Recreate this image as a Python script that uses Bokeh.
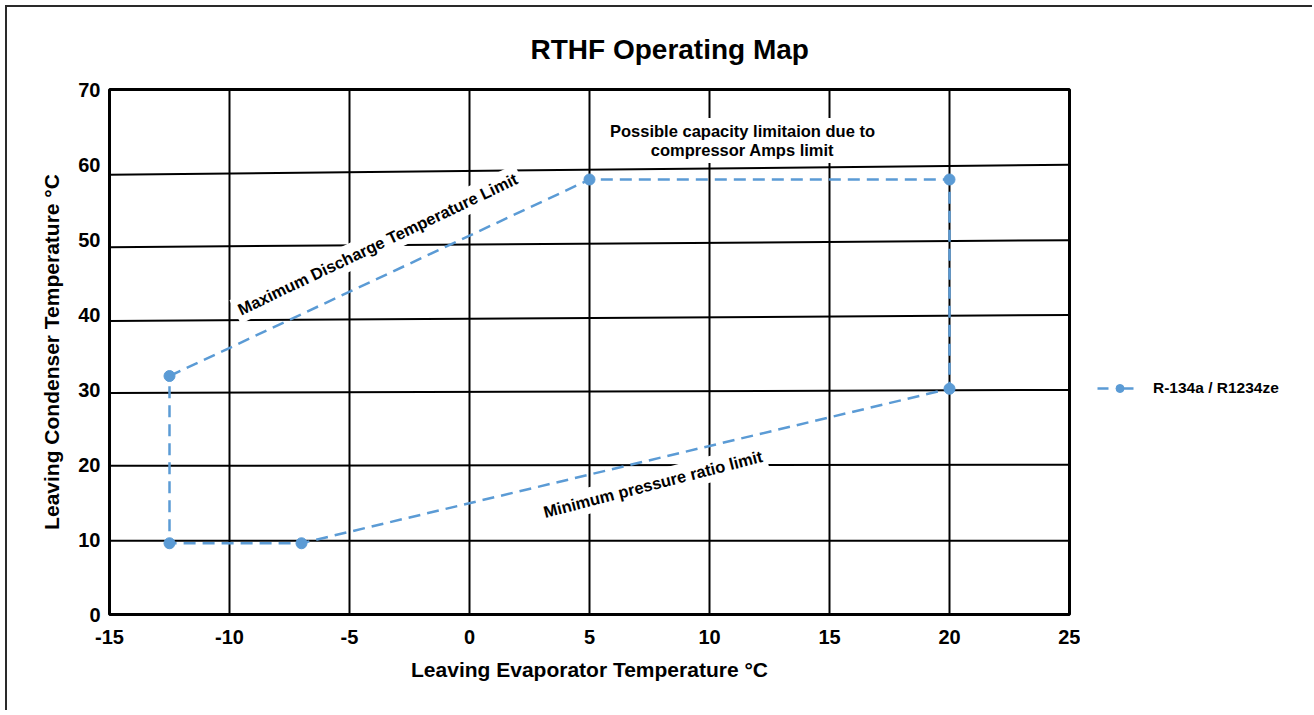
from bokeh.plotting import figure
from bokeh.layouts import row
from bokeh.models import (Range1d, Label, Legend, LegendItem, FixedTicker,
                          CustomJSTickFormatter)
from bokeh.embed import file_html
from bokeh.resources import INLINE

# ---- data ----
evap_temp = [-12.5, 5, 20, 20, -7, -12.5, -12.5]
cond_temp = [31.8, 58.0, 58.0, 30.1, 9.5, 9.5, 31.8]
series_name = "R-134a / R1234ze"

x_ticks = [-15, -10, -5, 0, 5, 10, 15, 20, 25]
y_ticks = [0, 10, 20, 30, 40, 50, 60, 70]

# slightly tilted horizontal reference lines (value at left edge, at right edge)
hgrid_left = [9.85, 19.83, 29.55, 39.13, 48.98, 58.62]
hgrid_right = [9.85, 19.96, 29.94, 39.93, 49.91, 59.98]

FONT = "Liberation Sans"
BLUE = "#5b9bd5"

p = figure(
    width=1073, height=705,
    min_border_left=102, min_border_top=81, min_border_right=11, min_border_bottom=98,
    x_range=Range1d(-15, 25), y_range=Range1d(0, 70),
    output_backend="svg", toolbar_location=None,
    title="RTHF Operating Map",
)
p.background_fill_color = "white"
p.border_fill_color = "white"
p.outline_line_color = "black"
p.outline_line_width = 3

p.title.align = "left"
p.title.offset = 421
p.title.standoff = 49
p.title.text_font = FONT
p.title.text_font_style = "bold"
p.title.text_font_size = "28px"
p.title.text_color = "black"

fmt = CustomJSTickFormatter(code="return String(tick);")
p.xaxis.formatter = fmt
p.yaxis.formatter = fmt
p.xaxis.ticker = FixedTicker(ticks=x_ticks)
p.yaxis.ticker = FixedTicker(ticks=y_ticks)
for ax in (p.xaxis, p.yaxis):
    ax.axis_line_color = None
    ax.major_tick_line_color = None
    ax.minor_tick_line_color = None
    ax.major_tick_out = 0
    ax.major_tick_in = 0
    ax.major_label_text_font = FONT
    ax.major_label_text_font_style = "bold"
    ax.major_label_text_font_size = "20px"
    ax.major_label_text_color = "black"
    ax.axis_label_text_font = FONT
    ax.axis_label_text_font_style = "bold"
    ax.axis_label_text_font_size = "21px"
    ax.axis_label_text_color = "black"
p.xaxis.major_label_standoff = 15
p.yaxis.major_label_standoff = 9
p.xaxis.axis_label = "Leaving Evaporator Temperature °C"
p.yaxis.axis_label = "Leaving Condenser Temperature °C"
p.xaxis.axis_label_standoff = 11
p.yaxis.axis_label_standoff = 12

p.xgrid.ticker = FixedTicker(ticks=x_ticks[1:-1])
p.xgrid.grid_line_color = "black"
p.xgrid.grid_line_width = 2
p.ygrid.grid_line_color = None

p.segment(x0=[x_ticks[0]] * len(hgrid_left), x1=[x_ticks[-1]] * len(hgrid_right),
          y0=hgrid_left, y1=hgrid_right, line_color="black", line_width=2)

p.line(evap_temp, cond_temp, line_color=BLUE, line_width=2.5, line_dash="12 7")
p.scatter(evap_temp[:-1], cond_temp[:-1], size=11, marker="circle",
          fill_color=BLUE, line_color=BLUE)

# annotations
def note(x, y, text, angle=0.0, size="16.5px", lh=1.2):
    p.add_layout(Label(x=x, y=y, text=text, angle=angle, angle_units="deg",
                       text_align="center", text_baseline="middle",
                       text_font=FONT, text_font_style="bold", text_font_size=size,
                       text_color="black", background_fill_color="white",
                       padding=4, text_line_height=lh))

note(-3.83, 49.4, "Maximum Discharge Temperature Limit", angle=25.5)
note(7.64, 17.4, "Minimum pressure ratio limit", angle=14.5)
note(11.375, 63.2, "Possible capacity limitaion due to\ncompressor Amps limit", lh=1.05)

# ---- legend panel (separate canvas to the right of the chart) ----
q = figure(
    width=234, height=705,
    min_border_left=0, min_border_top=0, min_border_right=0, min_border_bottom=0,
    x_range=Range1d(100, 101), y_range=Range1d(100, 101),
    x_axis_location=None, y_axis_location=None,
    output_backend="svg", toolbar_location=None,
)
q.outline_line_color = None
q.background_fill_color = "white"
q.border_fill_color = "white"
q.grid.grid_line_color = None
qln = q.line(evap_temp, cond_temp, line_color=BLUE, line_width=2.5, line_dash="11 14")
qsc = q.scatter(evap_temp[:-1], cond_temp[:-1], size=12, marker="circle",
                fill_color=BLUE, line_color=BLUE)
legend = Legend(items=[LegendItem(label=series_name, renderers=[qln, qsc])],
                location=(17, 216), padding=0, margin=0,
                glyph_width=45, label_standoff=11,
                label_text_font=FONT, label_text_font_style="bold",
                label_text_font_size="15.5px", label_text_color="black",
                background_fill_alpha=0, border_line_color=None)
q.add_layout(legend, "center")

layout = row(p, q, styles={"margin-left": "7px", "margin-top": "7px",
                           "box-shadow": "-2px -2px 0 0 #2a2a2a"})

open("out.html", "w").write(file_html(layout, INLINE))
